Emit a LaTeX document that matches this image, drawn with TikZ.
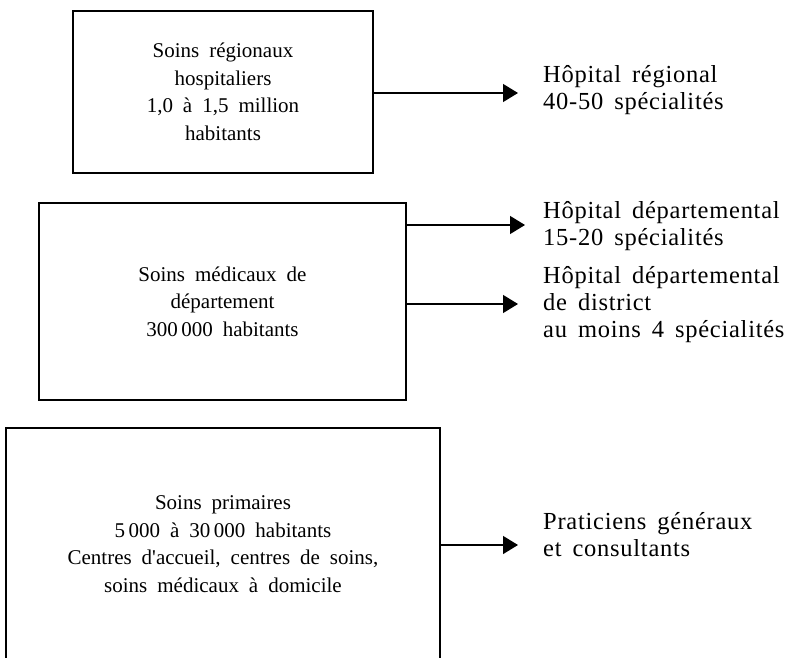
\documentclass[tikz,border=0pt]{standalone}
\usepackage{fontspec}
\setmainfont{Liberation Serif}
\newfontfamily\boxfont{Liberation Serif}[WordSpace=1.9]
\newfontfamily\sidefont{Liberation Serif}[LetterSpace=3,WordSpace=1.6]
\usetikzlibrary{arrows.meta}
\begin{document}
\begin{tikzpicture}[x=1pt,y=-1pt,
  level/.style={draw,line width=1.3pt,inner sep=0pt,align=center,
    font=\boxfont\fontsize{21}{27.5}\selectfont},
  dest/.style={anchor=base west,inner sep=0pt,align=left,
    font=\sidefont\fontsize{24.5}{27}\selectfont},
  feed/.style={line width=1.3pt,-{Triangle[length=15pt,width=18pt]}}]
\useasboundingbox (0,0) rectangle (787,658);

% levels of care
\node[level,minimum width=300pt,minimum height=162pt] (reg) at (223,92)
  {Soins régionaux\\hospitaliers\\1,0 à 1,5 million\\habitants};
\node[level,minimum width=367pt,minimum height=197pt] (dep) at (222.5,301.5)
  {Soins médicaux de\\département\\300\,000 habitants};
\node[level,minimum width=434pt,minimum height=232pt] (prim) at (223,544)
  {Soins primaires\\5\,000 à 30\,000 habitants\\Centres d'accueil, centres de soins,\\soins médicaux à domicile};

% arrow tips
\coordinate (t1) at (518,93);
\coordinate (t2) at (525,225);
\coordinate (t3) at (518,304);
\coordinate (t4) at (518,545);

% facilities (anchored on the baseline of the last line)
\node[dest] (hreg) at (543,110) {Hôpital régional\\40-50 spécialités};
\node[dest] (hdep) at (543,245) {Hôpital départemental\\15-20 spécialités};
\node[dest] (hdis) at (543,337) {Hôpital départemental\\de district\\au moins 4 spécialités};
\node[dest] (gp) at (543,556) {Praticiens généraux\\et consultants};

% connectors
\draw[feed] (reg.east |- t1) -- (t1);
\draw[feed] (dep.east |- t2) -- (t2);
\draw[feed] (dep.east |- t3) -- (t3);
\draw[feed] (prim.east |- t4) -- (t4);
\end{tikzpicture}
\end{document}
